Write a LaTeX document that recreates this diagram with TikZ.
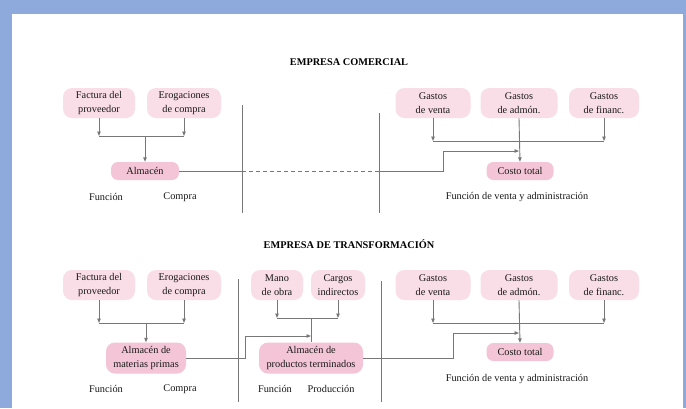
\documentclass[tikz,border=0pt]{standalone}
\usepackage{fontspec}
\setmainfont{Liberation Serif}
\usetikzlibrary{arrows.meta}
\definecolor{fondo}{HTML}{8EAADC}
\definecolor{rosa}{HTML}{F9DDE7}
\definecolor{rosafuerte}{HTML}{F4C5D6}
\definecolor{gris}{HTML}{777777}
\tikzset{
  caja/.style={rounded corners=9pt, fill=rosa, align=center, minimum height=30pt,
    inner xsep=3pt, inner ysep=2pt, font=\fontsize{10.3}{13.5}\selectfont, text=black!90},
  almacen/.style={caja, fill=rosafuerte, minimum height=18pt, rounded corners=7pt},
  rotulo/.style={font=\fontsize{10.3}{12.5}\selectfont, text=black!90},
  titulo/.style={font=\fontsize{10.3}{12}\selectfont\bfseries, text=black},
  linea/.style={draw=gris, line width=0.9pt},
  flecha/.style={linea, -{Triangle[length=4.5pt,width=3.5pt]}}
}
\begin{document}
\begin{tikzpicture}[x=1pt,y=-1pt]
    % Fondo
    \fill[fondo] (0,0) rectangle (686,408);
    \fill[white] (12,14) rectangle (683,408);

    % Empresa comercial
    \node[titulo] (tituloA) at (349,62) {EMPRESA COMERCIAL};
    \coordinate (divA1) at (242,105);
    \coordinate (divA2) at (379,113);
    \draw[linea] (divA1) -- (242,213);
    \draw[linea] (divA2) -- (379,213);

    \node[caja, minimum width=72pt] (factA) at (99,103) {Factura del\\proveedor};
    \node[caja, minimum width=74pt] (erogA) at (184,103) {Erogaciones\\de compra};
    \node[almacen, minimum width=68pt] (almA) at (145,171) {Almacén};
    \coordinate (unionA) at (145,136);
    \draw[flecha] (factA.south) -- (factA.south |- unionA);
    \draw[flecha] (erogA.south) -- (erogA.south |- unionA);
    \draw[linea] (factA.south |- unionA) -- (erogA.south |- unionA);
    \draw[flecha] (unionA) -- (almA.north);

    \node[caja, minimum width=75pt] (ventaA) at (433,103) {Gastos\\de venta};
    \node[caja, minimum width=77pt] (admonA) at (519,103) {Gastos\\de admón.};
    \node[caja, minimum width=70pt] (financA) at (604,103) {Gastos\\de financ.};
    \node[almacen, minimum width=67pt] (costoA) at (520,171) {Costo total};
    \coordinate (gastosA) at (433,141);
    \draw[flecha] (ventaA.south) -- (ventaA.south |- gastosA);
    \draw[flecha] (financA.south) -- (financA.south |- gastosA);
    \draw[linea] (ventaA.south |- gastosA) -- (financA.south |- gastosA);
    \draw[flecha] (admonA.south) -- (costoA.north);

    % Almacen a costo total
    \coordinate (quiebreA) at (443,151);
    \draw[linea] (almA.east) -- (almA.east -| divA1);
    \draw[linea, dash pattern=on 4pt off 3pt] (almA.east -| divA1) -- (almA.east -| divA2);
    \draw[flecha] (almA.east -| divA2) -- (almA.east -| quiebreA) |- (admonA.south |- quiebreA);

    \node[rotulo] (funcA) at (106,197) {Función};
    \node[rotulo] (compraA) at (180,197) {Compra};
    \node[rotulo] (ventaadmA) at (517,197) {Función de venta y administración};

    % Empresa de transformacion
    \node[titulo] (tituloB) at (349,244) {EMPRESA DE TRANSFORMACIÓN};
    \coordinate (divB1) at (238,279);
    \coordinate (divB2) at (381,281);
    \draw[linea] (divB1) -- (238,402);
    \draw[linea] (divB2) -- (381,402);

    \node[caja, minimum width=72pt] (factB) at (99,285) {Factura del\\proveedor};
    \node[caja, minimum width=74pt] (erogB) at (184,285) {Erogaciones\\de compra};
    \node[almacen, minimum width=80pt, minimum height=31pt, rounded corners=9pt] (matB) at (146,358) {Almacén de\\materias primas};
    \coordinate (unionB) at (146,323);
    \draw[flecha] (factB.south) -- (factB.south |- unionB);
    \draw[flecha] (erogB.south) -- (erogB.south |- unionB);
    \draw[linea] (factB.south |- unionB) -- (erogB.south |- unionB);
    \draw[flecha] (unionB) -- (matB.north);

    \node[caja, minimum width=52pt] (manoB) at (277,285) {Mano\\de obra};
    \node[caja, minimum width=54pt] (cargosB) at (338,285) {Cargos\\indirectos};
    \node[almacen, minimum width=104pt, minimum height=31pt, rounded corners=9pt] (prodB) at (311,358) {Almacén de\\productos terminados};
    \coordinate (unionC) at (311,318);
    \draw[flecha] (manoB.south) -- (manoB.south |- unionC);
    \draw[flecha] (cargosB.south) -- (cargosB.south |- unionC);
    \draw[linea] (manoB.south |- unionC) -- (cargosB.south |- unionC);
    \draw[linea] (unionC) -- (prodB.north);

    \node[caja, minimum width=75pt] (ventaB) at (433,285) {Gastos\\de venta};
    \node[caja, minimum width=77pt] (admonB) at (519,285) {Gastos\\de admón.};
    \node[caja, minimum width=70pt] (financB) at (604,285) {Gastos\\de financ.};
    \node[almacen, minimum width=67pt] (costoB) at (520,352) {Costo total};
    \coordinate (gastosB) at (433,323);
    \draw[flecha] (ventaB.south) -- (ventaB.south |- gastosB);
    \draw[flecha] (financB.south) -- (financB.south |- gastosB);
    \draw[linea] (ventaB.south |- gastosB) -- (financB.south |- gastosB);
    \draw[flecha] (admonB.south) -- (costoB.north);

    % Flujo entre almacenes
    \coordinate (quiebreB) at (245,336);
    \coordinate (quiebreC) at (453,333);
    \draw[flecha] (matB.east) -- (matB.east -| quiebreB) |- (prodB.north |- quiebreB);
    \draw[flecha] (prodB.east) -- (prodB.east -| quiebreC) |- (admonB.south |- quiebreC);

    \node[rotulo] (funcB) at (106,389) {Función};
    \node[rotulo] (compraB) at (180,389) {Compra};
    \node[rotulo] (funcC) at (275,389) {Función};
    \node[rotulo] (prodtxtB) at (331,389) {Producción};
    \node[rotulo] (ventaadmB) at (517,379) {Función de venta y administración};
\end{tikzpicture}
\end{document}
